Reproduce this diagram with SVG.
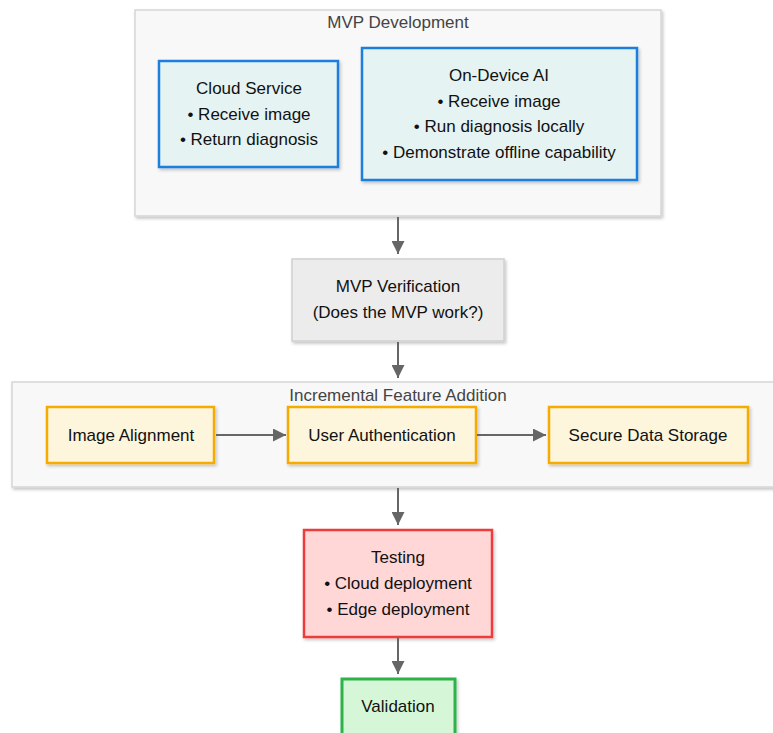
<svg xmlns="http://www.w3.org/2000/svg" width="773" height="733" viewBox="0 0 773 733">
  <defs>
    <filter id="shadow" x="-10%" y="-10%" width="125%" height="130%">
      <feDropShadow dx="1.5" dy="2" stdDeviation="1.5" flood-color="#000" flood-opacity="0.22"/>
    </filter>
    <marker id="arrow" viewBox="0 0 10 10" refX="10" refY="5" markerWidth="6.5" markerHeight="6.5" orient="auto" markerUnits="strokeWidth">
      <path d="M0,0 L10,5 L0,10 z" fill="#666"/>
    </marker>
    <style>
      text { font-family: "Liberation Sans", Arial, sans-serif; font-size: 17px; fill: #111; text-anchor: middle; }
      .title { fill: #444; }
      .cluster { fill: #f8f8f8; stroke: #d6d6d6; stroke-width: 1.5; filter: url(#shadow); }
      .blue { fill: #e5f3f3; stroke: #1e7fdc; stroke-width: 2.5; filter: url(#shadow); }
      .grey { fill: #ececec; stroke: #d0d0d0; stroke-width: 1.5; filter: url(#shadow); }
      .yellow { fill: #fdf6dc; stroke: #f5ab00; stroke-width: 2.5; filter: url(#shadow); }
      .red { fill: #ffd7d7; stroke: #ee3b3b; stroke-width: 2.5; filter: url(#shadow); }
      .green { fill: #d5f7d8; stroke: #2fb34a; stroke-width: 3; filter: url(#shadow); }
      .edge { stroke: #666; stroke-width: 2; fill: none; marker-end: url(#arrow); }
    </style>
  </defs>

  <rect width="773" height="733" fill="#ffffff"/>

  <!-- MVP Development cluster -->
  <g id="mvp-development">
    <rect class="cluster" x="135" y="10" width="526" height="206"/>
    <text class="title" x="398" y="28">MVP Development</text>
  </g>

  <g id="cloud-service">
    <rect class="blue" x="159" y="61" width="179" height="106"/>
    <text x="249" y="94">Cloud Service</text>
    <text x="249" y="120">• Receive image</text>
    <text x="249" y="145">• Return diagnosis</text>
  </g>

  <g id="on-device-ai">
    <rect class="blue" x="362" y="48" width="275" height="132"/>
    <text x="499" y="81">On-Device AI</text>
    <text x="499" y="107">• Receive image</text>
    <text x="499" y="132">• Run diagnosis locally</text>
    <text x="499" y="158">• Demonstrate offline capability</text>
  </g>

  <g id="mvp-verification">
    <rect class="grey" x="292" y="259" width="212" height="82"/>
    <text x="398" y="292">MVP Verification</text>
    <text x="398" y="318">(Does the MVP work?)</text>
  </g>

  <!-- Incremental Feature Addition cluster -->
  <g id="incremental-feature-addition">
    <rect class="cluster" x="12" y="382" width="775" height="105"/>
    <text class="title" x="398" y="401">Incremental Feature Addition</text>
  </g>

  <g id="image-alignment">
    <rect class="yellow" x="47" y="407" width="167" height="56"/>
    <text x="131" y="441">Image Alignment</text>
  </g>

  <g id="user-authentication">
    <rect class="yellow" x="288" y="407" width="188" height="56"/>
    <text x="382" y="441">User Authentication</text>
  </g>

  <g id="secure-data-storage">
    <rect class="yellow" x="549" y="407" width="199" height="56"/>
    <text x="648" y="441">Secure Data Storage</text>
  </g>

  <g id="testing">
    <rect class="red" x="304" y="530" width="188" height="107"/>
    <text x="398" y="563">Testing</text>
    <text x="398" y="589">• Cloud deployment</text>
    <text x="398" y="615">• Edge deployment</text>
  </g>

  <g id="validation">
    <rect class="green" x="342" y="679" width="113" height="70"/>
    <text x="398" y="712">Validation</text>
  </g>

  <!-- connectors -->
  <g id="connectors">
    <line class="edge" x1="398" y1="217" x2="398" y2="254"/>
    <line class="edge" x1="398" y1="342" x2="398" y2="378"/>
    <line class="edge" x1="216" y1="435" x2="286" y2="435"/>
    <line class="edge" x1="477" y1="435" x2="546" y2="435"/>
    <line class="edge" x1="398" y1="488" x2="398" y2="525"/>
    <line class="edge" x1="398" y1="638" x2="398" y2="674"/>
  </g>
</svg>
